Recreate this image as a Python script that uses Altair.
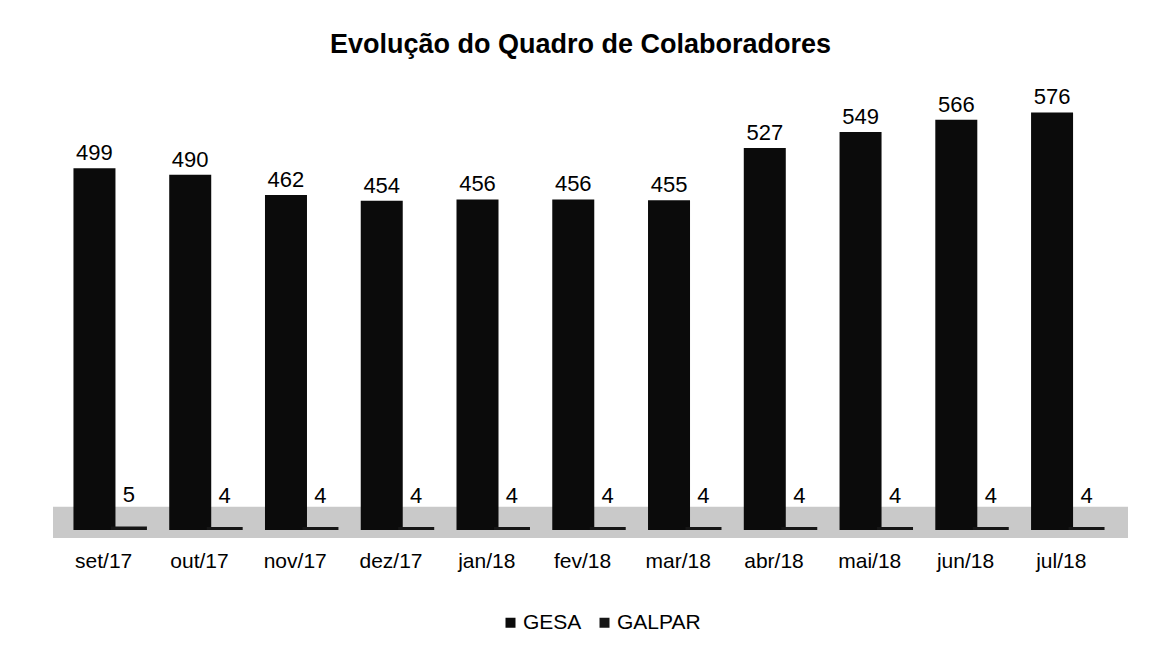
import altair as alt
import pandas as pd

months = ["set/17", "out/17", "nov/17", "dez/17", "jan/18", "fev/18",
          "mar/18", "abr/18", "mai/18", "jun/18", "jul/18"]
gesa = [499, 490, 462, 454, 456, 456, 455, 527, 549, 566, 576]
galpar = [5, 4, 4, 4, 4, 4, 4, 4, 4, 4, 4]
series = ["GESA", "GALPAR"]

rows = []
for m, a, b in zip(months, gesa, galpar):
    rows.append({"mes": m, "serie": "GESA", "valor": a})
    rows.append({"mes": m, "serie": "GALPAR", "valor": b})
df = pd.DataFrame(rows)

FONT = "Liberation Sans"
W, H = 1075, 443

xscale = alt.Scale(domain=months, paddingInner=0.28, paddingOuter=0.253)
x = alt.X("mes:N", sort=months, title=None, scale=xscale, axis=None)
xo = alt.XOffset("serie:N", sort=series, scale=alt.Scale(domain=series, paddingInner=0, paddingOuter=0))
yscale = alt.Scale(domain=[-11, 600], nice=False, zero=False)
y = alt.Y("valor:Q", title=None, scale=yscale, axis=None)
color = alt.Color("serie:N", sort=series,
                  scale=alt.Scale(domain=series, range=["#0b0b0b", "#161616"]),
                  legend=alt.Legend(title=None, orient="none", direction="horizontal",
                                    legendX=447, legendY=517, symbolType="square",
                                    symbolSize=100, labelFontSize=21, labelFont=FONT,
                                    labelColor="#000", columnPadding=12, labelOffset=2,
                                    symbolStrokeWidth=0))

base = alt.Chart(df)

floor = alt.Chart(pd.DataFrame({"lo": [-11], "hi": [32]})).mark_rect(
    color="#c9c9c9").encode(
    x=alt.value(0), x2=alt.value(W),
    y=alt.Y("lo:Q", scale=yscale, axis=None),
    y2="hi:Q")

bars_gesa = base.transform_filter(alt.datum.serie == "GESA").mark_bar(width=42).encode(
    x=x, xOffset=xo, y=y, color=color)
bars_galpar = base.transform_filter(alt.datum.serie == "GALPAR").mark_bar(width=36).encode(
    x=x, xOffset=xo, y=y, color=color)

lab_gesa = base.transform_filter(alt.datum.serie == "GESA").mark_text(
    baseline="bottom", dy=-3, fontSize=22, font=FONT, color="#000").encode(
    x=x, xOffset=xo, y=y, text="valor:Q")
lab_galpar = base.transform_filter(alt.datum.serie == "GALPAR").mark_text(
    baseline="bottom", dy=-19, fontSize=22, font=FONT, color="#000").encode(
    x=x, xOffset=xo, y=y, text="valor:Q")

month_labels = alt.Chart(pd.DataFrame({"mes": months})).mark_text(
    baseline="top", dx=-8, fontSize=21, font=FONT, color="#000").encode(
    x=alt.X("mes:N", sort=months, scale=xscale, axis=None),
    y=alt.value(H + 13), text="mes:N")

chart = alt.layer(floor, bars_gesa, bars_galpar, lab_gesa, lab_galpar, month_labels).properties(
    width=W, height=H,
    background="white",
    padding={"left": 45, "top": 23, "right": 10, "bottom": 10},
    title=alt.TitleParams("Evolução do Quadro de Colaboradores", fontSize=27, font=FONT,
                          fontWeight="bold", anchor="middle", offset=27, dx=-10,
                          color="#000"),
).configure_view(strokeWidth=0, stroke=None)

chart.save("out.html", embed_options={"renderer": "svg", "actions": False})
